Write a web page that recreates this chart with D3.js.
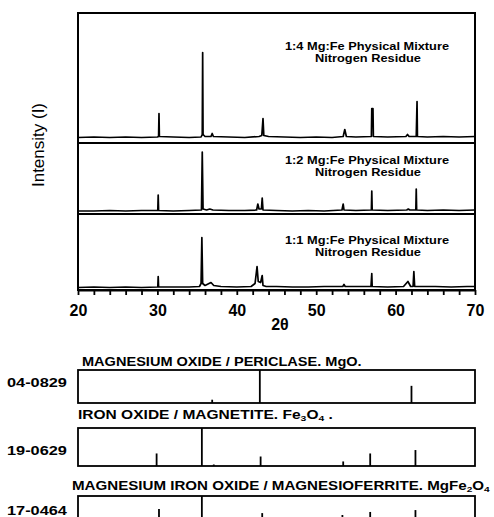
<!DOCTYPE html>
<html>
<head>
<meta charset="utf-8">
<script src="https://cdn.jsdelivr.net/npm/d3@7"></script>
<style>
  html, body { margin: 0; padding: 0; background: #fff; }
  svg { display: block; }
  text { font-family: "Liberation Sans", Arial, Helvetica, sans-serif; fill: #000; }
</style>
</head>
<body>
<svg id="chart" width="494" height="517"></svg>
<script>
// 2θ axis
const thetaDomain = [20, 70];
const thetaTicks = [20, 22, 24, 26, 28, 30, 32, 34, 36, 38, 40, 42, 44, 46, 48, 50,
                    52, 54, 56, 58, 60, 62, 64, 66, 68, 70];
const thetaTickLabels = [20, 30, 40, 50, 60, 70];

// Diffraction traces, [2θ, intensity (a.u.)]
const trace14 = [[20,0],[22,0.5],[24,0],[26,0.5],[28,0],[30.0,0.5],[30.15,1],[30.2,24],[30.25,1],
  [32,0.5],[34,0],[35.5,0.5],[35.65,3],[35.7,85],[35.75,3],[36.0,1],[36.75,1],[36.9,4],[37.05,1],
  [39,0.5],[41,0],[42.8,1],[43.15,2],[43.3,19],[43.4,2],[44,1],[46,0.5],[48,0],[50,0.5],[52,0],
  [53.4,1],[53.6,8],[53.8,1],[55,0.5],[56.95,1],[57.0,29],[57.15,29],[57.2,1],[59,0.5],[61.3,1],
  [61.5,3],[61.7,1],[62.6,1],[62.7,36],[62.75,1],[64,0.5],[66,1],[68,0.5],[70,1]];
const trace12 = [[20,0],[22,0],[24,0.5],[26,0],[28,0.5],[30.05,0.5],[30.1,16],[30.15,0.5],[32,0],
  [34,0.5],[35.55,1],[35.65,59],[35.75,2],[36.2,1],[36.6,2],[37,1],[39,0.5],[41,0.5],[42.5,1],
  [42.65,7],[42.8,2],[43.1,2],[43.2,13],[43.3,1],[45,0.5],[47,0],[49,0.5],[51,0],[53.25,1],
  [53.4,7],[53.5,1],[55,0.5],[56.95,1],[57.0,20],[57.05,1],[59,0.5],[61.4,1],[61.6,2],[61.8,1],
  [62.55,1],[62.6,22],[62.65,1],[64,0.5],[66,1],[68,0.5],[70,1]];
const trace11 = [[20,0],[22,0.5],[24,0],[26,0.5],[28,0],[30.05,0.5],[30.1,11],[30.15,0.5],[32,0.5],
  [34,0.5],[35.3,1],[35.5,4],[35.6,50],[35.7,4],[36.0,2],[36.5,4],[36.75,5],[37.1,2],[38,1],
  [40,0.5],[41.8,1],[42.3,4],[42.55,21],[42.7,6],[43.0,5],[43.2,12],[43.3,2],[43.7,1],
  [45,1],[47,0.5],[49,0.5],[51,1],[53.35,1],[53.5,3],[53.65,1],[55,1],[56.9,1],[57.0,14],[57.05,1],
  [59,0.5],[61.0,1],[61.55,6],[61.9,1],[62.2,1],[62.3,16],[62.4,1],[63,1],[65,1],[67,0.5],
  [69,1],[70,1]];
const sampleNames = ["1:4 Mg:Fe Physical Mixture", "1:2 Mg:Fe Physical Mixture", "1:1 Mg:Fe Physical Mixture"];
const sampleSubtitle = "Nitrogen Residue";

// Reference powder patterns, [2θ, relative intensity %]
const cardNumbers = ["04-0829", "19-0629", "17-0464"];
const periclaseLines = [[36.9,10],[42.9,100],[62.0,52]];
const magnetiteLines = [[29.9,33],[35.6,100],[37.1,4],[43.0,25],[53.4,12],[56.8,33],[62.5,42]];
const magnesioferriteLines = [[30.2,66],[35.6,100],[43.2,55],[53.3,50],[56.8,58],[62.5,63]];

const svg = d3.select("#chart");
const x = d3.scaleLinear().domain(thetaDomain).range([78, 475]);

// stretch a text element horizontally to a given width, anchored at its left edge
function fitWidth(sel, left, width) {
  const w = sel.node().getComputedTextLength();
  sel.attr("transform", `translate(${left},0) scale(${width / w},1) translate(${-left},0)`);
}

// ---- stacked diffractograms ----
const plotTop = 13, plotBottom = 290;
const panels = [
  { data: trace14, top: 13,  bottom: 143, base: 137.5, name: sampleNames[0], ty: 50 },
  { data: trace12, top: 143, bottom: 214, base: 211,   name: sampleNames[1], ty: 164 },
  { data: trace11, top: 214, bottom: 290, base: 287.5, name: sampleNames[2], ty: 244 }
];

const line = d3.line();
panels.forEach(p => {
  const y = d3.scaleLinear().domain([0, 100]).range([p.base, p.base - 100]);
  svg.append("path")
    .attr("d", line(p.data.map(d => [x(d[0]), y(d[1])])))
    .attr("fill", "none").attr("stroke", "#000")
    .attr("stroke-width", 1.7).attr("stroke-linejoin", "round");
  svg.append("text").attr("x", 367).attr("y", p.ty)
    .attr("text-anchor", "middle").attr("font-size", 10.5).attr("font-weight", "bold")
    .attr("textLength", 164).attr("lengthAdjust", "spacingAndGlyphs")
    .text(p.name);
  svg.append("text").attr("x", 368).attr("y", p.ty + 12)
    .attr("text-anchor", "middle").attr("font-size", 10.5).attr("font-weight", "bold")
    .attr("textLength", 106).attr("lengthAdjust", "spacingAndGlyphs")
    .text(sampleSubtitle);
});

// frame and panel dividers
svg.append("rect").attr("x", x(20)).attr("y", plotTop)
  .attr("width", x(70) - x(20)).attr("height", plotBottom - plotTop)
  .attr("fill", "none").attr("stroke", "#000").attr("stroke-width", 2);
[143, 214].forEach(yy => {
  svg.append("line").attr("x1", x(20)).attr("x2", x(70)).attr("y1", yy).attr("y2", yy)
    .attr("stroke", "#000").attr("stroke-width", 2);
});

// 2θ axis
const axis = d3.axisBottom(x).tickValues(thetaTicks).tickSize(5).tickSizeOuter(0)
  .tickFormat(d => thetaTickLabels.includes(d) ? d : "");
const gAxis = svg.append("g").attr("transform", `translate(0,${plotBottom})`).call(axis);
gAxis.select(".domain").attr("stroke-width", 2);
gAxis.selectAll(".tick line").attr("stroke-width", 1.8);
gAxis.selectAll(".tick text").attr("font-size", 16).attr("font-weight", "bold")
  .attr("font-family", "Liberation Sans, Arial, sans-serif").attr("dy", "1.1em");

svg.append("text").attr("x", 280).attr("y", 330).attr("text-anchor", "middle")
  .attr("font-size", 16).attr("font-weight", "bold").text("2θ");

svg.append("text").attr("transform", "translate(44,145) rotate(-90)")
  .attr("text-anchor", "middle").attr("font-size", 17).text("Intensity (I)");

// ---- reference cards ----
const cards = [
  { lines: periclaseLines, top: 370, bottom: 403, ty: 366, ly: 387,
    title: [["MAGNESIUM OXIDE / PERICLASE. MgO.", 0]], tx: 82, tw: 280 },
  { lines: magnetiteLines, top: 428, bottom: 466, ty: 419, ly: 455,
    title: [["IRON OXIDE / MAGNETITE. Fe", 0], ["3", 1], ["O", 0], ["4", 1], [" .", 0]], tx: 78, tw: 255 },
  { lines: magnesioferriteLines, top: 496, bottom: 534, ty: 490, ly: 515,
    title: [["MAGNESIUM IRON OXIDE / MAGNESIOFERRITE. MgFe", 0], ["2", 1], ["O", 0], ["4", 1]], tx: 72, tw: 418 }
];

cards.forEach((c, i) => {
  const y = d3.scaleLinear().domain([0, 100]).range([c.bottom, c.top]);
  svg.append("rect").attr("x", x(20)).attr("y", c.top)
    .attr("width", x(70) - x(20)).attr("height", c.bottom - c.top)
    .attr("fill", "none").attr("stroke", "#000").attr("stroke-width", 1.8);
  svg.selectAll(null).data(c.lines).enter().append("line")
    .attr("x1", d => x(d[0])).attr("x2", d => x(d[0]))
    .attr("y1", y(0)).attr("y2", d => y(d[1]))
    .attr("stroke", "#000").attr("stroke-width", 1.8);
  const t = svg.append("text").attr("x", c.tx).attr("y", c.ty)
    .attr("font-size", 12).attr("font-weight", "bold");
  c.title.forEach(([s, sub]) => {
    const ts = t.append("tspan").text(s);
    if (sub) ts.attr("font-size", 8).attr("baseline-shift", "-25%");
  });
  fitWidth(t, c.tx, c.tw);
  const n = svg.append("text").attr("x", 7).attr("y", c.ly)
    .attr("font-size", 13).attr("font-weight", "bold")
    .text(cardNumbers[i]);
  fitWidth(n, 7, 60);
});
</script>
</body>
</html>
